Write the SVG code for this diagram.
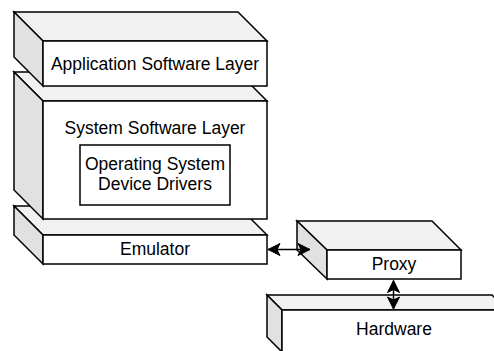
<svg xmlns="http://www.w3.org/2000/svg" width="494" height="351" viewBox="0 0 494 351">
<defs>
<style>
.top{fill:#f1f1f1;stroke:#000;stroke-width:1.5}
.side{fill:#e1e1e1;stroke:#000;stroke-width:1.5}
.front{fill:#fff;stroke:#000;stroke-width:1.5}
.t{font-family:"Liberation Sans",Arial,Helvetica,sans-serif;font-size:17.5px;fill:#000;text-anchor:middle}
.c{stroke:#000;stroke-width:1.5;fill:none}
</style>
<marker id="arr" markerUnits="userSpaceOnUse" markerWidth="14" markerHeight="12" refX="0" refY="0" viewBox="-13 -6 14 12" orient="auto-start-reverse" overflow="visible">
<path d="M0,0 L-12,-6 L-9,0 L-12,6 Z" fill="#000" stroke="#000" stroke-width="1"/>
</marker>
</defs>
<rect width="494" height="351" fill="#fff"/>
<g id="hardware">
<polygon class="top" points="267,295 492,295 507,310 282,310"/>
<polygon class="side" points="267,295 282,310 282,352 267,337"/>
<rect class="front" x="282" y="310" width="225" height="42"/>
<text class="t" x="394" y="335">Hardware</text>
</g>
<g id="proxy">
<polygon class="top" points="297,221 432,221 461,250 327,250"/>
<polygon class="side" points="297,221 327,250 327,279 297,250"/>
<rect class="front" x="327" y="250" width="134" height="29"/>
<text class="t" x="394" y="270">Proxy</text>
</g>
<g id="emulator">
<polygon class="top" points="14,206 238,206 267,235 43,235"/>
<polygon class="side" points="14,206 43,235 43,264 14,235"/>
<rect class="front" x="43" y="235" width="224" height="29"/>
<text class="t" x="155" y="255">Emulator</text>
</g>
<g id="system">
<polygon class="top" points="14,72 238,72 267,101 43,101"/>
<polygon class="side" points="14,72 43,101 43,219 14,190"/>
<rect class="front" x="43" y="101" width="224" height="118"/>
<text class="t" x="155" y="133.5">System Software Layer</text>
</g>
<g id="os">
<rect class="front" x="80" y="145" width="150" height="60"/>
<text class="t" x="155" y="169.5">Operating System</text>
<text class="t" x="155" y="189.5">Device Drivers</text>
</g>
<g id="application">
<polygon class="top" points="14,12 238,12 267,41 43,41"/>
<polygon class="side" points="14,12 43,41 43,86 14,57"/>
<rect class="front" x="43" y="41" width="224" height="45"/>
<text class="t" x="155" y="70">Application Software Layer</text>
</g>
<g id="connectors">
<line class="c" x1="268" y1="249.5" x2="310" y2="249.5" marker-start="url(#arr)" marker-end="url(#arr)"/>
<line class="c" x1="393.5" y1="280.5" x2="393.5" y2="309" marker-start="url(#arr)" marker-end="url(#arr)"/>
</g>
</svg>
